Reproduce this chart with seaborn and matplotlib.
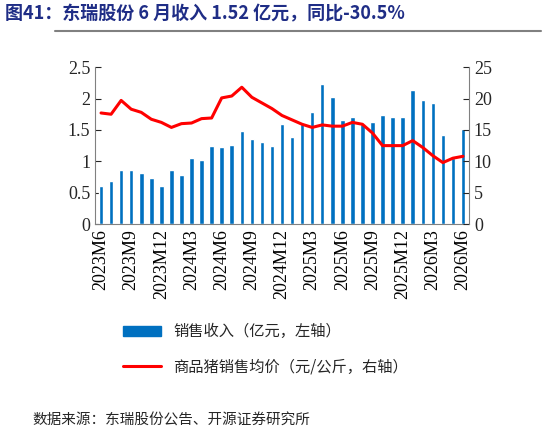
import numpy as np
import pandas as pd
import seaborn as sns
import matplotlib.pyplot as plt
from matplotlib.lines import Line2D
from matplotlib.patches import Patch

months = pd.period_range('2023-06', '2026-06', freq='M')
labels = [f"{p.year}M{p.month}" for p in months]
revenue = [0.60, 0.68, 0.86, 0.86, 0.82, 0.73, 0.60, 0.86, 0.79, 1.05, 1.02, 1.25, 1.23,
           1.26, 1.49, 1.36, 1.30, 1.25, 1.60, 1.39, 1.60, 1.79, 2.23, 2.03, 1.66, 1.70,
           1.60, 1.63, 1.73, 1.70, 1.71, 2.14, 1.98, 1.93, 1.42, 1.05, 1.52]
price = [17.7, 17.5, 19.7, 18.3, 17.8, 16.7, 16.2, 15.4, 16.0, 16.1, 16.8, 16.9, 20.1,
         20.4, 21.8, 20.2, 19.3, 18.4, 17.3, 16.6, 15.9, 15.4, 15.8, 15.6, 15.6, 16.2,
         15.9, 14.5, 12.5, 12.5, 12.5, 13.3, 12.2, 10.9, 9.8, 10.5, 10.8]

df = pd.DataFrame({'month': labels, 'revenue': revenue, 'price': price})

sns.set_style('white')
plt.rcParams['font.family'] = ['Liberation Serif', 'Noto Sans CJK SC']
cjk = ['Noto Sans CJK SC', 'DejaVu Sans']

fig = plt.figure(figsize=(5.46, 4.36), dpi=100)
ax = fig.add_axes([0.174, 0.486, 0.685, 0.36])
sns.barplot(data=df, x='month', y='revenue', color='#0070C0', width=0.45,
            saturation=1, ax=ax)
ax2 = ax.twinx()
ax2.plot(np.arange(len(df)), df['price'], color='#FF0000', lw=2.2)

ax.set_ylim(0, 2.5)
ax.set_yticks([0, 0.5, 1, 1.5, 2, 2.5])
ax.set_yticklabels(['0', '0.5', '1', '1.5', '2', '2.5'])
ax2.set_ylim(0, 25)
ax2.set_yticks(range(0, 26, 5))
ax.set_xlim(-0.6, len(df) - 0.4)
ax.set_xticks(range(0, len(df), 3))
ax.set_xticklabels(labels[::3], rotation=90, fontsize=13)
ax.set_xlabel('')
ax.set_ylabel('')
for a in (ax, ax2):
    a.tick_params(axis='y', labelsize=13, length=4, direction='in')
    for s in a.spines.values():
        s.set_visible(False)
    a.spines['bottom'].set_visible(True)
ax.spines['left'].set_visible(True)
ax2.spines['right'].set_visible(True)
for s in ('left', 'bottom'):
    ax.spines[s].set_color('#808080')
ax2.spines['right'].set_color('#808080')
ax2.spines['bottom'].set_visible(False)
ax.tick_params(axis='x', length=4, direction='in', bottom=True, colors='black')
ax.tick_params(axis='y', left=True)
ax2.tick_params(axis='y', right=True)

handles = [Patch(color='#0070C0'), Line2D([], [], color='#FF0000', lw=2.2)]
fig.legend(handles, ['销售收入（亿元，左轴）', '商品猪销售均价（元/公斤，右轴）'],
           loc='upper left', bbox_to_anchor=(0.2, 0.29), frameon=False,
           prop={'family': cjk, 'size': 11}, labelspacing=1.2, handlelength=2.5)

fig.text(0.01, 0.955, '图41：东瑞股份 6 月收入 1.52 亿元，同比-30.5%', color='#1F2D86',
         fontsize=13, fontweight='bold', family=cjk)
fig.add_artist(Line2D([0.1, 0.99], [0.928, 0.928], color='#808080', lw=1.5))
fig.text(0.06, 0.025, '数据来源：东瑞股份公告、开源证券研究所', fontsize=10.5, family=cjk)

fig.savefig('out.png', dpi=100)
